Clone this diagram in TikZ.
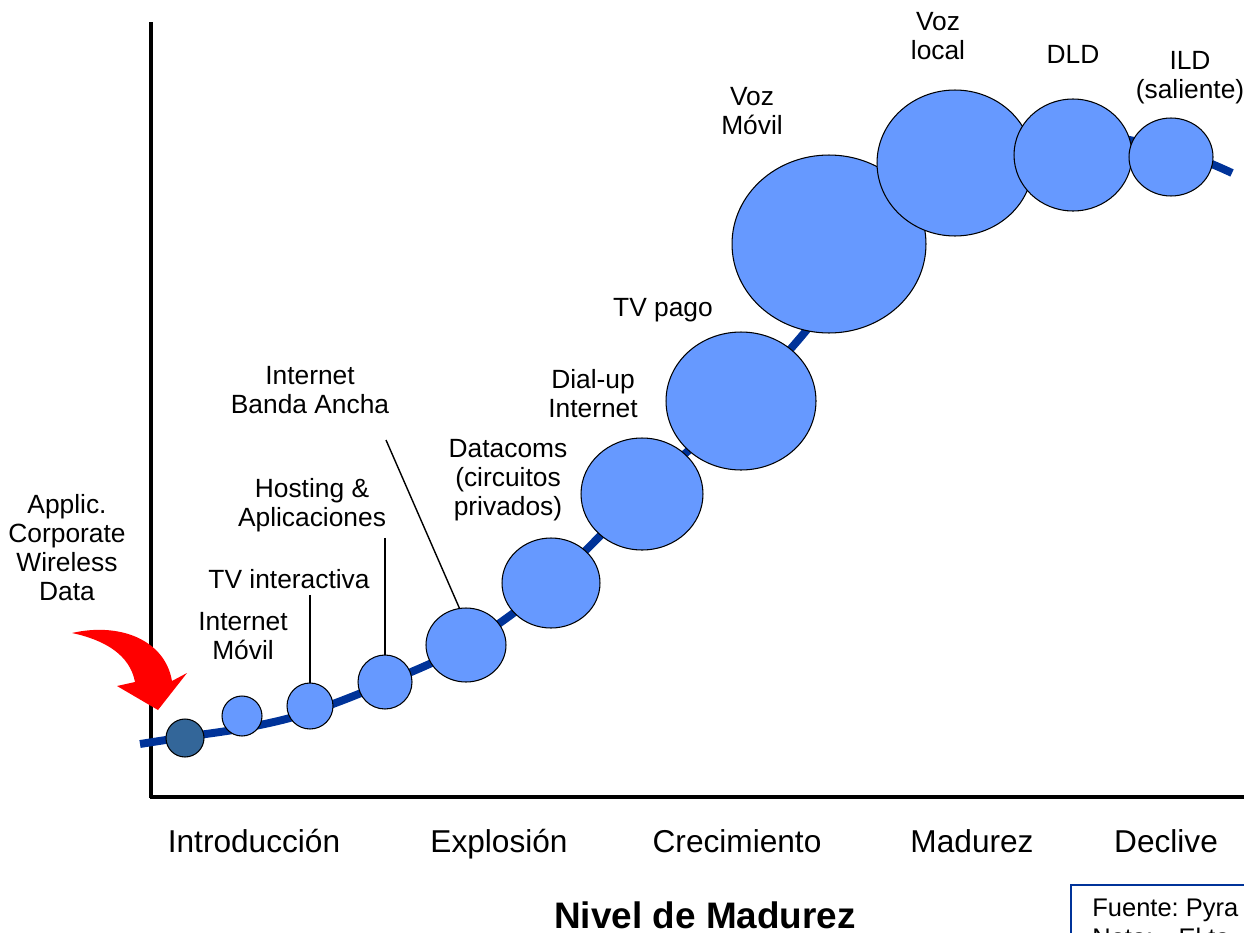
\documentclass[tikz,border=0pt]{standalone}
\usepackage{fontspec}
\setmainfont{Liberation Sans}
\usetikzlibrary{shapes.geometric}

\definecolor{bubblefill}{HTML}{6699FF}
\definecolor{bubbledark}{HTML}{336699}
\definecolor{curveblue}{HTML}{003399}
\definecolor{notecolor}{HTML}{003399}

\tikzset{
  bubble/.style={ellipse, draw=black, line width=0.6pt, fill=bubblefill, inner sep=0pt, outer sep=0pt},
  tag/.style={align=center, font=\fontsize{15}{16.5}\selectfont},
  stage/.style={anchor=base, font=\fontsize{18}{20}\selectfont},
  pointer/.style={draw=black, line width=0.8pt},
}

\begin{document}
\begin{tikzpicture}[x=0.02cm, y=-0.02cm]

  \useasboundingbox (0,0) rectangle (1244,933);
  \clip (0,0) rectangle (1244,933);

  % axes
  \draw[line width=1.8pt] (151,22) -- (151,798);
  \draw[line width=2.3pt] (150,797) -- (1250,797);

  % curve
  \draw[curveblue, line width=4.5pt] plot[smooth, tension=0.6] coordinates {
    (140,744) (185,737) (250,727) (310,712) (385,683) (466,645)
    (551,583) (642,494) (741,401) (800,338) (870,250) (955,165)
    (1073,135) (1171,150) (1232,173)};

  % bubbles
  \node[bubble, fill=bubbledark, minimum width=0.76cm, minimum height=0.76cm] (b1) at (185,738) {};
  \node[bubble, minimum width=0.8cm, minimum height=0.8cm] (b2) at (242,716) {};
  \node[bubble, minimum width=0.92cm, minimum height=0.92cm] (b3) at (310,706) {};
  \node[bubble, minimum width=1.08cm, minimum height=1.08cm] (b4) at (385,682) {};
  \node[bubble, minimum width=1.6cm, minimum height=1.48cm] (b5) at (466,645) {};
  \node[bubble, minimum width=1.96cm, minimum height=1.8cm] (b6) at (551,583) {};
  \node[bubble, minimum width=2.44cm, minimum height=2.24cm] (b7) at (642,494) {};
  \node[bubble, minimum width=3.0cm, minimum height=2.76cm] (b8) at (741,401) {};
  \node[bubble, minimum width=3.88cm, minimum height=3.56cm] (b9) at (829,244) {};
  \node[bubble, minimum width=3.12cm, minimum height=2.92cm] (b10) at (955,163) {};
  \node[bubble, minimum width=2.36cm, minimum height=2.24cm] (b11) at (1073,155) {};
  \node[bubble, minimum width=1.68cm, minimum height=1.56cm] (b12) at (1171,157) {};

  % labels
  \node[tag] (applic) at (67,548) {Applic.\\Corporate\\Wireless\\Data};
  \node[tag] (intmovil) at (243,636) {Internet\\Móvil};
  \node[tag] (tvint) at (289,579) {TV interactiva};
  \node[tag] (hosting) at (312,505) {Hosting \&\\Aplicaciones};
  \node[tag] (bandaancha) at (310,390) {Internet\\Banda Ancha};
  \node[tag] (datacoms) at (508,480) {Datacoms\\(circuitos\\privados)};
  \node[tag] (dialup) at (593,394) {Dial-up\\Internet};
  \node[tag] (tvpago) at (663,310) {TV pago};
  \node[tag] (vozmovil) at (752,111) {Voz\\Móvil};
  \node[tag] (vozlocal) at (938,36) {Voz\\local};
  \node[tag] (dld) at (1073,54) {DLD};
  \node[tag] (ild) at (1190,78) {ILD\\(saliente)};

  \coordinate (bandaend) at (386,440);
  \draw[pointer] (tvint.south -| b3.north) -- (b3.north);
  \draw[pointer] (hosting.south -| b4.north) -- (b4.north);
  \draw[pointer] (bandaend) -- (b5.100);

  % red arrow
  \fill[red] (72,633) .. controls (120,622) and (165,640) .. (172,681)
    -- (187,673) -- (158,710) -- (117,686) -- (135,682)
    .. controls (130,655) and (105,640) .. (72,633) -- cycle;

  % stages
  \node[stage] (intro) at (254,852) {Introducción};
  \node[stage] (explosion) at (499,852) {Explosión};
  \node[stage] (crecim) at (737,852) {Crecimiento};
  \node[stage] (madurez) at (972,852) {Madurez};
  \node[stage] (declive) at (1166,852) {Declive};
  \node[anchor=base, inner sep=0pt, font=\fontsize{21}{24}\selectfont\bfseries] (nivel) at (705,928) {Nivel de Madurez};

  % source box
  \draw[notecolor, line width=1.2pt] (1071,885) rectangle (1270,980);
  \node[anchor=north west, align=left, inner sep=0pt, font=\fontsize{14.5}{17}\selectfont] (fuente) at (1092,899) {Fuente:\ Pyra\\Nota:\quad El ta};

\end{tikzpicture}
\end{document}
